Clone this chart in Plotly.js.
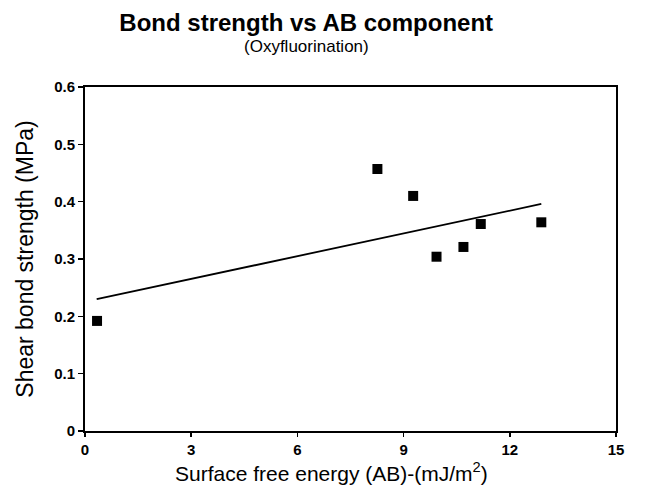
<!DOCTYPE html>
<html><head><meta charset="utf-8">
<script src="https://cdn.plot.ly/plotly-3.0.1.min.js"></script>
<style>html,body{margin:0;padding:0;background:#fff}#c{width:646px;height:489px}</style>
</head><body><div id="c"></div>
<script>
const energyAB = [0.34, 8.26, 9.27, 9.93, 10.69, 11.18, 12.89];
const shearStrength = [0.192, 0.457, 0.410, 0.304, 0.321, 0.361, 0.364];
const fitX = [0.33, 12.89];
const fitY = [0.230, 0.396];
const xTicks = [0, 3, 6, 9, 12, 15];
const yTicks = [0, 0.1, 0.2, 0.3, 0.4, 0.5, 0.6];
const yTickText = ['0', '0.1', '0.2', '0.3', '0.4', '0.5', '0.6'];

const font = 'Liberation Sans, Arial, Helvetica, sans-serif';
Plotly.newPlot('c', [
  {x: fitX, y: fitY, mode: 'lines', line: {color: '#000', width: 1.8}, hoverinfo: 'skip'},
  {x: energyAB, y: shearStrength, mode: 'markers',
   marker: {symbol: 'square', size: 10, color: '#000'}}
], {
  width: 646, height: 489,
  margin: {l: 85, r: 30, t: 87, b: 58},
  paper_bgcolor: '#fff', plot_bgcolor: '#fff',
  showlegend: false,
  font: {family: font, color: '#000'},
  title: {
    text: "<b>Bond strength vs AB component</b>",
    font: {family: font, size: 24, color: '#000'},
    xref: 'container', x: 0.474, xanchor: 'center',
    yref: 'container', y: 0.953, yanchor: 'middle'
  },
  annotations: [{
    text: '(Oxyfluorination)', showarrow: false,
    xref: 'paper', yref: 'paper', x: (306 - 85) / 531, y: 1 + (87 - 46) / 344,
    xanchor: 'center', yanchor: 'middle',
    font: {family: font, size: 17, color: '#000'}
  }, {
    text: 'Surface free energy (AB)-(mJ/m<sup>2</sup>)', showarrow: false,
    xref: 'paper', yref: 'paper', x: (331 - 85) / 531, y: (431 - 472) / 344,
    xanchor: 'center', yanchor: 'middle',
    font: {family: font, size: 21, color: '#000'}
  }],
  xaxis: {
    range: [0, 15], tickvals: xTicks, ticktext: xTicks.map(String),
    showgrid: false, zeroline: false, showline: true, mirror: true,
    linecolor: '#000', linewidth: 2, ticks: 'outside', ticklen: 4, tickcolor: '#000', tickwidth: 1.5,
    tickfont: {family: font, size: 15, weight: 'bold'}
  },
  yaxis: {
    range: [0, 0.6], tickvals: yTicks, ticktext: yTickText,
    showgrid: false, zeroline: false, showline: true, mirror: true,
    linecolor: '#000', linewidth: 2, ticks: 'outside', ticklen: 5, tickcolor: '#000', tickwidth: 1.5,
    tickfont: {family: font, size: 15, weight: 'bold'},
    title: {text: 'Shear bond strength (MPa)', font: {family: font, size: 23}, standoff: 14}
  }
}, {displayModeBar: false, staticPlot: true});
</script></body></html>
